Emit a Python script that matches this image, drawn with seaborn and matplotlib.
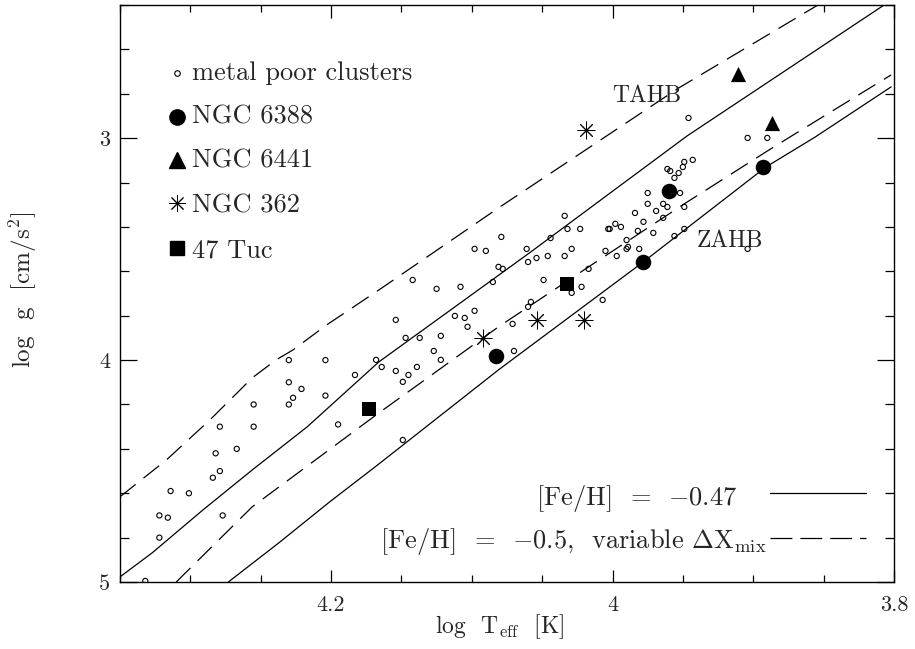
import matplotlib
matplotlib.use("Agg")
import matplotlib.pyplot as plt
from matplotlib.ticker import MultipleLocator, FuncFormatter
import seaborn as sns
import numpy as np
import pandas as pd

# ---------------- data ----------------
# horizontal branch stars in metal poor clusters (small open circles)
mp_teff = [4.230, 4.204, 4.230, 4.221, 4.227, 4.230, 4.204, 4.255, 4.279, 4.255,
           4.195, 4.267, 4.282, 4.279, 4.284, 4.314, 4.301, 4.322, 4.316, 4.277,
           4.322, 4.332, 4.079, 4.098, 4.090, 4.061, 4.081, 4.078, 4.060, 4.085,
           4.142, 4.125, 4.108, 4.098, 4.112, 4.105, 4.103, 4.060, 4.071, 4.154,
           4.147, 4.137, 4.122, 4.127, 4.122, 4.070, 4.168, 4.164, 4.154, 4.145,
           4.139, 4.149, 4.183, 4.149, 3.943, 3.949, 3.950, 3.953, 3.961, 3.959,
           3.956, 3.975, 3.952, 3.975, 3.964, 3.961, 3.969, 3.984, 3.949, 3.964,
           3.978, 4.034, 4.032, 4.023, 4.003, 4.002, 3.998, 3.994, 3.982, 3.971,
           3.949, 3.956, 4.044, 3.990, 3.989, 3.990, 3.981, 4.029, 4.054, 4.046,
           4.034, 4.005, 3.997, 4.017, 4.049, 4.022, 4.029, 4.007, 4.058, 3.946,
           3.904, 3.890, 3.904]
mp_logg = [4.00, 4.00, 4.10, 4.13, 4.17, 4.20, 4.16, 4.20, 4.30, 4.30,
           4.29, 4.40, 4.42, 4.50, 4.53, 4.59, 4.60, 4.70, 4.71, 4.70,
           4.80, 4.995, 3.445, 3.499, 3.508, 3.499, 3.580, 3.589, 3.558, 3.648,
           3.639, 3.679, 3.670, 3.778, 3.801, 3.810, 3.850, 3.760, 3.837, 3.819,
           3.900, 3.900, 3.891, 3.959, 3.999, 3.959, 3.999, 4.031, 4.049, 4.067,
           4.031, 4.098, 4.067, 4.360, 3.098, 3.107, 3.130, 3.157, 3.139, 3.148,
           3.179, 3.247, 3.247, 3.296, 3.296, 3.310, 3.328, 3.337, 3.310, 3.359,
           3.377, 3.350, 3.409, 3.409, 3.409, 3.409, 3.386, 3.400, 3.418, 3.427,
           3.409, 3.441, 3.450, 3.459, 3.490, 3.499, 3.499, 3.499, 3.540, 3.531,
           3.531, 3.508, 3.531, 3.589, 3.639, 3.670, 3.697, 3.729, 3.738, 2.909,
           2.999, 2.999, 3.499]

ngc6388_teff = [4.083, 3.978, 3.960, 3.893]
ngc6388_logg = [3.981, 3.558, 3.238, 3.130]

ngc6441_teff = [3.911, 3.887]
ngc6441_logg = [2.711, 2.932]

ngc362_teff = [4.019, 4.092, 4.054, 4.020]
ngc362_logg = [2.963, 3.900, 3.819, 3.819]

tuc47_teff = [4.173, 4.032]
tuc47_logg = [4.220, 3.657]

# models: [Fe/H] = -0.47 (solid)
zahb_teff = [4.273, 4.237, 4.201, 4.166, 4.081, 3.979, 3.891, 3.856, 3.802]
zahb_logg = [5.000, 4.823, 4.639, 4.468, 4.044, 3.562, 3.130, 2.995, 2.769]
tahb_teff = [4.350, 4.327, 4.291, 4.256, 4.217, 4.166, 4.059, 3.947, 3.807]
tahb_logg = [4.977, 4.868, 4.675, 4.495, 4.301, 4.008, 3.517, 2.990, 2.400]

# models: [Fe/H] = -0.5, variable mixing (dashed)
zahb_mix_teff = [4.310, 4.256, 4.166, 4.081, 4.017, 3.948, 3.891, 3.875, 3.802]
zahb_mix_logg = [5.000, 4.661, 4.238, 3.850, 3.580, 3.292, 3.062, 2.999, 2.715]
tahb_mix_teff = [4.350, 4.317, 4.286, 4.256, 4.239, 4.227, 4.203, 4.166, 4.080,
                 3.953, 3.854]
tahb_mix_logg = [4.616, 4.450, 4.269, 4.080, 3.999, 3.954, 3.841, 3.684, 3.310,
                 2.774, 2.400]

# ---------------- style ----------------
sns.set_style("ticks")
plt.rcParams["font.family"] = ["cmr10", "DejaVu Serif"]
plt.rcParams["mathtext.fontset"] = "cm"
plt.rcParams["axes.formatter.use_mathtext"] = True
plt.rcParams["axes.unicode_minus"] = False

fig = plt.figure(figsize=(9.15, 6.49), dpi=100)
ax = fig.add_axes([0.1311, 0.1032, 0.8459, 0.8891])

solid = "-"
dashed = (0, (16, 8))
lw = 0.9
for tx, gy, ls in [(zahb_teff, zahb_logg, solid),
                   (tahb_teff, tahb_logg, solid),
                   (zahb_mix_teff, zahb_mix_logg, dashed),
                   (tahb_mix_teff, tahb_mix_logg, dashed)]:
    sns.lineplot(x=tx, y=gy, sort=False, estimator=None, color="black",
                 linewidth=lw, linestyle=ls, ax=ax)

# scatter part
sns.scatterplot(x=mp_teff, y=mp_logg, marker="o", s=14, color="k",
                facecolor="none", edgecolor="k", linewidth=0.8, ax=ax, zorder=3)
sns.scatterplot(x=ngc6388_teff, y=ngc6388_logg, marker="o", s=125, color="k",
                edgecolor="k", linewidth=0, ax=ax, zorder=4)
sns.scatterplot(x=ngc6441_teff, y=ngc6441_logg, marker="^", s=120, color="k",
                edgecolor="k", linewidth=0, ax=ax, zorder=4)
sns.scatterplot(x=ngc362_teff, y=ngc362_logg, marker=(8, 2, 0), s=150, color="k",
                edgecolor="k", linewidth=0.7, ax=ax, zorder=4)
sns.scatterplot(x=tuc47_teff, y=tuc47_logg, marker="s", s=90, color="k",
                edgecolor="k", linewidth=0, ax=ax, zorder=4)

# axes
ax.set_xlim(4.35, 3.8)
ax.set_ylim(5.0, 2.4)
ax.xaxis.set_major_locator(MultipleLocator(0.2))
ax.xaxis.set_minor_locator(MultipleLocator(0.05))
ax.yaxis.set_major_locator(MultipleLocator(1.0))
ax.yaxis.set_minor_locator(MultipleLocator(0.2))
fmt = FuncFormatter(lambda v, p: "%g" % round(v, 3))
ax.xaxis.set_major_formatter(fmt)
ax.yaxis.set_major_formatter(fmt)
ax.tick_params(which="both", direction="in", top=True, right=True,
               color="black", width=0.9, labelsize=16)
ax.tick_params(axis="x", which="major", length=9, pad=10)
ax.tick_params(axis="x", which="minor", length=5)
ax.tick_params(axis="y", which="major", length=12, pad=7)
ax.tick_params(axis="y", which="minor", length=6.5)
for sp in ax.spines.values():
    sp.set_visible(True)
    sp.set_linewidth(1.0)
    sp.set_color("black")

ax.set_xlabel(r"log  $\mathrm{T_{eff}}$  [K]", fontsize=17)
ax.set_ylabel(r"log  g  [cm/s$^2$]", fontsize=18)
ax.xaxis.set_label_coords(0.491, -0.053)
ax.yaxis.set_label_coords(-0.104, 0.506)

# in-plot labels
ax.text(4.0, 2.837, "TAHB", fontsize=17, ha="left", va="baseline")
ax.text(3.940, 3.490, "ZAHB", fontsize=17, ha="left", va="baseline")

# legend for symbols (upper left)
tr = ax.transAxes
rows = [("metal poor clusters", dict(marker="o", ms=4, mfc="none", mew=0.8), 0.882, 0.870),
        ("NGC 6388", dict(marker="o", ms=11), 0.806, 0.794),
        ("NGC 6441", dict(marker="^", ms=11), 0.731, 0.718),
        ("NGC 362", dict(marker=(8, 2, 0), ms=12, mew=0.7), 0.657, 0.640),
        ("47 Tuc", dict(marker="s", ms=9.5), 0.579, 0.562)]
for label, mk, ym, yt in rows:
    ax.plot([0.0736], [ym], transform=tr, color="k", ls="none", **mk)
    ax.text(0.093, yt, label, transform=tr, fontsize=19, ha="left", va="baseline")

# legend for model lines (lower right)
ax.text(0.798, 0.1334, r"[Fe/H]  =  $-$0.47", transform=tr, fontsize=19,
        ha="right", va="baseline")
ax.plot([0.8398, 0.9638], [0.154, 0.154], transform=tr, color="k", lw=lw)
ax.text(0.836, 0.0589,
        r"[Fe/H]  =  $-$0.5,  variable $\Delta\mathrm{X}_{\mathrm{mix}}$",
        transform=tr, fontsize=19, ha="right", va="baseline")
ax.plot([0.8398, 0.9638], [0.076, 0.076], transform=tr, color="k", lw=lw,
        linestyle=(0, (17.5, 6.4)))

fig.savefig("out.png", dpi=100)
